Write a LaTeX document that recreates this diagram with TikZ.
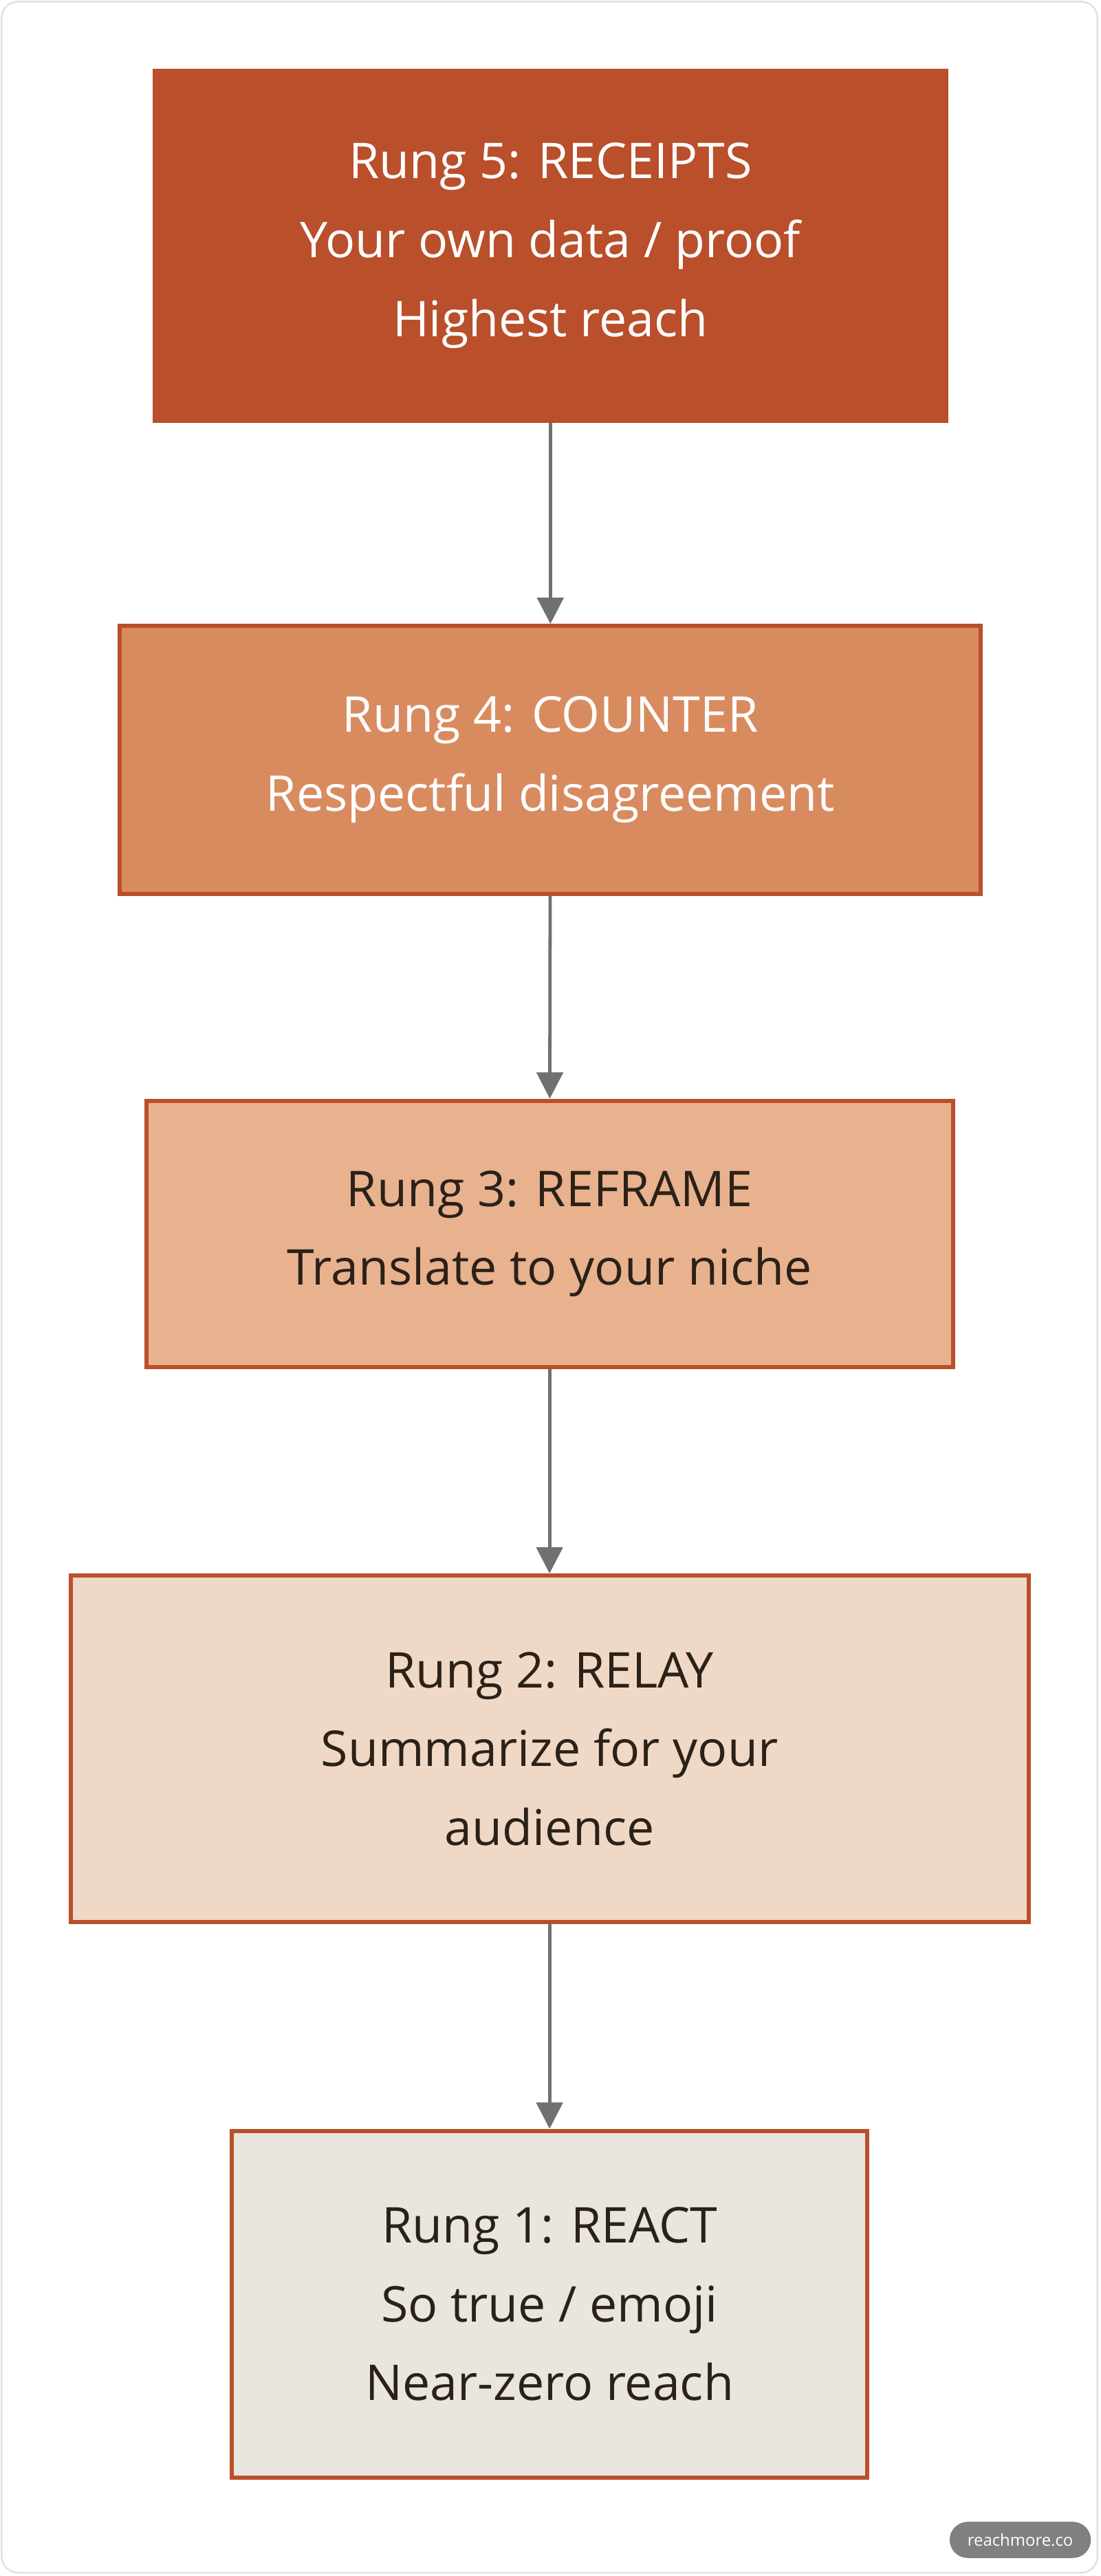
\documentclass[tikz,border=0pt]{standalone}
\usepackage{fontspec}
\setmainfont{Open Sans}
\usetikzlibrary{arrows.meta}
\definecolor{c5}{HTML}{B94F2B}
\definecolor{c4}{HTML}{D98B60}
\definecolor{c3}{HTML}{E8B28E}
\definecolor{c2}{HTML}{EFD9C6}
\definecolor{c1}{HTML}{E8E6DE}
\definecolor{edge}{HTML}{B94F2B}
\definecolor{txt}{HTML}{2B2118}
\definecolor{arr}{HTML}{707070}
\begin{document}
\begin{tikzpicture}[x=1pt,y=-1pt,
  box/.style={draw=edge,line width=2.5pt,align=center,inner sep=0pt,
    font=\fontsize{30}{48}\selectfont},
  con/.style={draw=arr,line width=2pt,-{Triangle[length=16pt,width=16pt]}}]
\useasboundingbox (0,0) rectangle (670,1568);
\draw[draw=black!12,line width=1pt,rounded corners=10pt] (1,1) rectangle (668,1566);
\node[box,fill=c5,draw=c5,text=white,minimum width=482pt,minimum height=213pt] (r5) at (335,149.5) {Rung 5: RECEIPTS\\Your own data / proof\\Highest reach};
\node[box,fill=c4,text=white,minimum width=524pt,minimum height=163pt] (r4) at (335,462.5) {Rung 4: COUNTER\\Respectful disagreement};
\node[box,fill=c3,text=txt,minimum width=491pt,minimum height=162pt] (r3) at (334.5,751) {Rung 3: REFRAME\\Translate to your niche};
\node[box,fill=c2,text=txt,minimum width=583pt,minimum height=211pt] (r2) at (334.5,1064.5) {Rung 2: RELAY\\Summarize for your\\audience};
\node[box,fill=c1,text=txt,minimum width=387pt,minimum height=211pt] (r1) at (334.5,1402.5) {Rung 1: REACT\\So true / emoji\\Near-zero reach};
\draw[con] (r5) -- (r4);
\draw[con] (r4) -- (r3);
\draw[con] (r3) -- (r2);
\draw[con] (r2) -- (r1);
\node[fill=black!50,text=white,rounded corners=11pt,minimum width=86pt,minimum height=22pt,inner sep=0pt,font=\fontsize{10}{12}\selectfont] (wm) at (621,1546) {reachmore.co};
\end{tikzpicture}
\end{document}
